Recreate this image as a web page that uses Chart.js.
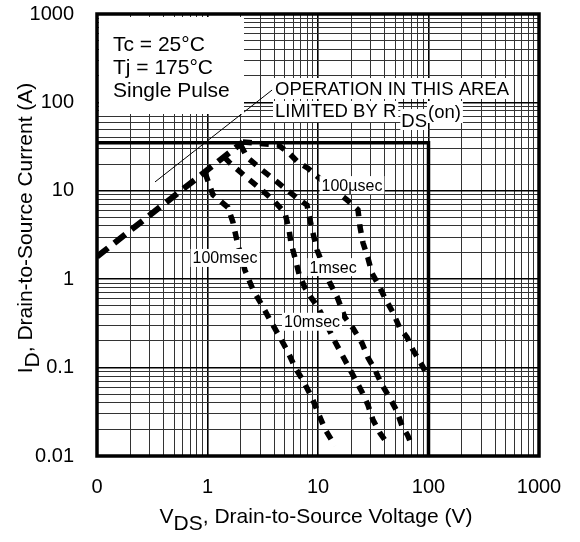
<!DOCTYPE html>
<html><head><meta charset="utf-8">
<script src="https://cdn.jsdelivr.net/npm/chart.js@4.4.1/dist/chart.umd.min.js"></script>
<style>html,body{margin:0;padding:0;background:#fff}#wrap{width:580px;height:542px;position:relative}</style>
</head><body><div id="wrap"><canvas id="c" width="580" height="542"></canvas></div>
<script>
// ---- tick labels / decades ----
const xDecades = [0.1, 1, 10, 100, 1000];
const xTickLabels = ['0', '1', '10', '100', '1000'];
const yDecades = [0.01, 0.1, 1, 10, 100, 1000];
const yTickLabels = ['0.01', '0.1', '1', '10', '100', '1000'];
const minorSteps = [2, 3, 4, 5, 6, 7, 8, 9];

// ---- series (V in volts, I in amps) ----
const rdsV = [0.1, 2.09];
const rdsI = [1.8, 35.6];
const limitV = [0.1, 100, 100];
const limitI = [35, 35, 0.01];
const us100V = [2.09, 4.35, 5.35, 6.6, 8.1, 10, 18.3, 23, 24, 25.5, 28.3, 30.8, 36.4, 40.4, 47.7, 55, 64, 72, 84, 100];
const us100I = [35.6, 33, 27.5, 21, 18, 14.3, 7.9, 6.1, 3.9, 2.6, 1.74, 1.17, 0.8, 0.61, 0.42, 0.28, 0.22, 0.16, 0.116, 0.078];
const ms1V = [2.0, 2.28, 3.11, 4.08, 5.24, 6.46, 7.95, 8.47, 9.0, 9.8, 12.8, 14.9, 17.5, 20.7, 25, 28.3, 32.8, 37.9, 44.8, 51.9, 57.5, 65, 71];
const ms1I = [33, 24, 17.2, 13.2, 10.2, 8.3, 6.9, 4.67, 3.33, 2.14, 0.91, 0.63, 0.37, 0.28, 0.19, 0.13, 0.094, 0.064, 0.045, 0.032, 0.022, 0.017, 0.013];
const ms10V = [1.42, 1.6, 2.28, 3.11, 4.08, 5.03, 5.47, 5.7, 6.19, 6.73, 7.63, 8.83, 10, 14.3, 17.5, 20.7, 25, 28.3, 31.5, 36.4, 42.1];
const ms10I = [24, 20.6, 14.0, 10.2, 7.47, 5.61, 3.6, 2.57, 1.74, 1.15, 0.795, 0.597, 0.485, 0.195, 0.122, 0.0825, 0.053, 0.0378, 0.0255, 0.0182, 0.014];
const ms100V = [0.95, 1.12, 1.53, 1.70, 1.85, 2.18, 2.58, 3.11, 3.68, 4.53, 5.35, 6.2, 7.3, 8.8, 10, 11.6, 14.3];
const ms100I = [16, 9.0, 6.5, 4.4, 2.7, 1.27, 0.76, 0.51, 0.345, 0.22, 0.15, 0.10, 0.072, 0.046, 0.031, 0.020, 0.013];
const leaderV = [0.335, 3.84];
const leaderI = [12.6, 138];

// ---- curve labels (anchor V, I) ----
const curveLabels = ['100µsec', '100msec', '1msec', '10msec'];
const curveLabelV = [20.3, 1.44, 13.7, 8.83];
const curveLabelI = [11.6, 1.74, 1.37, 0.33];

const FONT = '"Liberation Sans", Arial, Helvetica, sans-serif';

function pts(xs, ys) { return xs.map((v, i) => ({ x: v, y: ys[i] })); }
function buildTicks(decades) {
  const out = [];
  decades.forEach((d, i) => {
    out.push({ value: d, major: true });
    if (i < decades.length - 1) minorSteps.forEach(m => out.push({ value: +(d * m).toPrecision(6), major: false }));
  });
  return out;
}
function isDecade(v, decades) { return decades.some(d => Math.abs(v - d) / d < 1e-6); }
function labelFor(v, decades, labels) {
  const i = decades.findIndex(d => Math.abs(v - d) / d < 1e-6);
  return i >= 0 ? labels[i] : '';
}

const dashStyle = { borderColor: '#000', borderWidth: 5.5, borderDash: [9, 8], pointRadius: 0, fill: false, tension: 0, borderCapStyle: 'butt' };

const overlay = {
  id: 'overlay',
  afterDatasetsDraw(chart) {
    const ctx = chart.ctx, a = chart.chartArea;
    const xs = chart.scales.x, ys = chart.scales.y;
    ctx.save();
    // frame
    ctx.strokeStyle = '#000'; ctx.lineWidth = 3.5;
    ctx.strokeRect(a.left, a.top, a.right - a.left, a.bottom - a.top);

    // condition box
    ctx.fillStyle = '#fff';
    ctx.fillRect(a.left + 2, a.top + 3, 145, 97);
    ctx.fillStyle = '#000';
    ctx.font = '21px ' + FONT;
    ctx.textBaseline = 'alphabetic'; ctx.textAlign = 'left';
    ctx.fillText('Tc = 25°C', a.left + 16, a.top + 37);
    ctx.fillText('Tj = 175°C', a.left + 16, a.top + 60);
    ctx.fillText('Single Pulse', a.left + 16, a.top + 83);

    // operation area text
    ctx.font = '18.5px ' + FONT;
    const ox = 275;
    const l1 = 'OPERATION IN THIS AREA';
    const w1 = ctx.measureText(l1).width;
    ctx.fillStyle = '#fff';
    ctx.fillRect(ox - 2, a.top + 64, w1 + 4, 21);
    const l2 = 'LIMITED BY R';
    const w2 = ctx.measureText(l2).width;
    ctx.fillRect(ox - 2, a.top + 87, w2 + 4, 21);
    const dsx = ox + w2 + 5;
    const wds = ctx.measureText('DS').width;
    ctx.fillRect(dsx - 1, a.top + 95, wds + 2, 21);
    const onx = dsx + wds + 1;
    const won = ctx.measureText('(on)').width;
    ctx.fillRect(onx - 1, a.top + 87, won + 3, 22);
    ctx.fillStyle = '#000';
    ctx.fillText(l1, ox, a.top + 81);
    ctx.fillText(l2, ox, a.top + 103);
    ctx.fillText('DS', dsx, a.top + 113);
    ctx.fillText('(on)', onx, a.top + 104);

    // curve labels
    ctx.font = '16px ' + FONT;
    ctx.textAlign = 'center'; ctx.textBaseline = 'middle';
    curveLabels.forEach((t, i) => {
      const px = xs.getPixelForValue(curveLabelV[i]);
      const py = ys.getPixelForValue(curveLabelI[i]);
      const w = ctx.measureText(t).width;
      ctx.fillStyle = '#fff';
      ctx.fillRect(px - w / 2 - 2, py - 9, w + 4, 18);
      ctx.fillStyle = '#000';
      ctx.fillText(t, px, py + 1);
    });
    ctx.restore();
  },
  afterDraw(chart) {
    const ctx = chart.ctx, a = chart.chartArea;
    ctx.save();
    ctx.fillStyle = '#000';
    ctx.font = '21px ' + FONT;
    ctx.textBaseline = 'alphabetic'; ctx.textAlign = 'left';
    // x title
    const p1 = 'V', p2 = 'DS', p3 = ', Drain-to-Source Voltage (V)';
    const wa = ctx.measureText(p1).width, wb = ctx.measureText(p2).width, wc = ctx.measureText(p3).width;
    let sx = (a.left + a.right) / 2 - 2 - (wa + wb + wc) / 2;
    const by = 523;
    ctx.fillText(p1, sx, by);
    ctx.fillText(p2, sx + wa, by + 7);
    ctx.fillText(p3, sx + wa + wb, by);
    // y title
    const q1 = 'I', q2 = 'D', q3 = ', Drain-to-Source Current (A)';
    const va = ctx.measureText(q1).width, vb = ctx.measureText(q2).width, vc = ctx.measureText(q3).width;
    ctx.translate(32, 228);
    ctx.rotate(-Math.PI / 2);
    let sy = -(va + vb + vc) / 2;
    ctx.fillText(q1, sy, 0);
    ctx.fillText(q2, sy + va, 7);
    ctx.fillText(q3, sy + va + vb, 0);
    ctx.restore();
  }
};

new Chart(document.getElementById('c'), {
  type: 'line',
  data: {
    datasets: [
      { data: pts(limitV, limitI), borderColor: '#000', borderWidth: 3.5, pointRadius: 0, fill: false, tension: 0 },
      { data: pts(leaderV, leaderI), borderColor: '#000', borderWidth: 1, pointRadius: 0, fill: false, tension: 0 },
      Object.assign({ data: pts(rdsV, rdsI) }, dashStyle, { borderWidth: 6, borderDash: [14, 8] }),
      Object.assign({ data: pts(ms100V, ms100I) }, dashStyle),
      Object.assign({ data: pts(ms10V, ms10I) }, dashStyle),
      Object.assign({ data: pts(ms1V, ms1I) }, dashStyle),
      Object.assign({ data: pts(us100V, us100I) }, dashStyle)
    ]
  },
  options: {
    responsive: false,
    animation: false,
    parsing: false,
    layout: { padding: { left: 0, right: 41, top: 14, bottom: 0 } },
    plugins: { legend: { display: false }, tooltip: { enabled: false } },
    scales: {
      x: {
        type: 'logarithmic', min: 0.1, max: 1000,
        afterBuildTicks: (s) => { s.ticks = buildTicks(xDecades); },
        afterFit: (s) => { s.height = 86; s.paddingLeft = 0; s.paddingRight = 0; },
        border: { display: false },
        grid: {
          drawTicks: false,
          color: (c) => isDecade(c.tick.value, xDecades) ? '#000' : '#333',
          lineWidth: (c) => isDecade(c.tick.value, xDecades) ? 1.6 : 1
        },
        ticks: {
          autoSkip: false, maxRotation: 0, padding: 19, color: '#000',
          font: { family: FONT, size: 20 },
          callback: (v) => labelFor(v, xDecades, xTickLabels)
        }
      },
      y: {
        type: 'logarithmic', min: 0.01, max: 1000,
        afterBuildTicks: (s) => { s.ticks = buildTicks(yDecades); },
        afterFit: (s) => { s.width = 97; s.paddingTop = 0; s.paddingBottom = 0; },
        border: { display: false },
        grid: {
          drawTicks: false,
          color: (c) => isDecade(c.tick.value, yDecades) ? '#000' : '#333',
          lineWidth: (c) => isDecade(c.tick.value, yDecades) ? 1.6 : 1
        },
        ticks: {
          autoSkip: false, padding: 23, color: '#000',
          font: { family: FONT, size: 20 },
          callback: (v) => labelFor(v, yDecades, yTickLabels)
        }
      }
    }
  },
  plugins: [overlay]
});
</script>
</body></html>
